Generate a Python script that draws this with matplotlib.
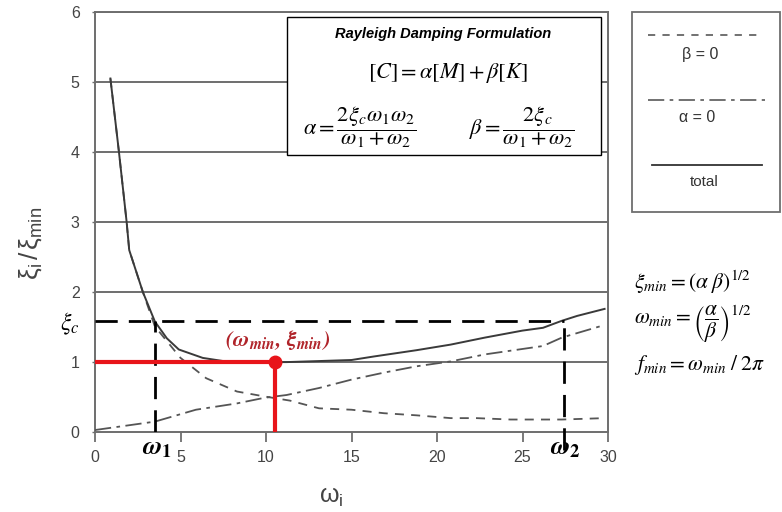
import matplotlib
matplotlib.use("Agg")
import matplotlib.pyplot as plt
from matplotlib.patches import Rectangle
from matplotlib.lines import Line2D

plt.rcParams['font.family'] = ['Liberation Sans', 'DejaVu Sans']
plt.rcParams['mathtext.fontset'] = 'stix'

# ---- data ----
total_x = [0.9, 1.4, 1.85, 2.0, 2.8, 3.5, 4.2, 4.9, 6.3, 7.9, 11.2, 15.0, 16.3, 18.8, 20.8, 22.8, 25.0, 26.2, 27.3, 28.2, 29.8]
total_y = [5.05, 4.0, 3.0, 2.6, 2.0, 1.58, 1.34, 1.18, 1.06, 1.0, 1.0, 1.03, 1.08, 1.17, 1.25, 1.35, 1.45, 1.49, 1.59, 1.66, 1.76]

beta0_x = [0.9, 1.4, 1.85, 2.0, 2.8, 3.5, 5.0, 6.5, 8.3, 9.9, 11.4, 13.1, 15.0, 16.9, 18.8, 20.8, 22.3, 24.3, 27.3, 29.8]
beta0_y = [5.05, 4.0, 3.0, 2.6, 2.0, 1.51, 1.06, 0.77, 0.58, 0.51, 0.45, 0.34, 0.32, 0.27, 0.24, 0.20, 0.20, 0.18, 0.18, 0.20]

alpha0_x = [0.0, 3.5, 5.9, 8.3, 9.9, 11.2, 13.1, 15.0, 16.9, 18.8, 20.8, 22.8, 24.5, 26.2, 27.3, 29.8]
alpha0_y = [0.03, 0.15, 0.32, 0.41, 0.49, 0.53, 0.63, 0.75, 0.85, 0.94, 1.01, 1.11, 1.17, 1.23, 1.35, 1.53]

omega1 = 3.5
omega2 = 27.4
xi_c = 1.58
omega_min = 10.5
xi_min = 1.0

x_ticks = [0, 5, 10, 15, 20, 25, 30]
y_ticks = [0, 1, 2, 3, 4, 5, 6]

# ---- figure ----
fig = plt.figure(figsize=(7.82, 5.12), dpi=100)
ax = fig.add_axes([0.1215, 0.156, 0.656, 0.8206])
ax.set_xlim(0, 30)
ax.set_ylim(0, 6)

gray = '#6e6e6e'
for y in y_ticks[1:]:
    ax.axhline(y, color=gray, lw=1.4, zorder=1)

for s in ax.spines.values():
    s.set_color(gray)
    s.set_linewidth(1.4)

ax.set_xticks(x_ticks)
ax.set_yticks(y_ticks)
ax.tick_params(axis='x', direction='out', length=7, width=1.3, color=gray,
               labelsize=11.5, labelcolor='#444444', pad=6)
ax.tick_params(axis='y', direction='out', length=2, width=1.0, color=gray,
               labelsize=11.5, labelcolor='#444444', pad=9)

# curves
ax.plot(beta0_x, beta0_y, color='#555555', lw=1.3, dashes=(5, 4), zorder=3)
ax.plot(alpha0_x, alpha0_y, color='#555555', lw=1.3, dashes=(9, 3, 2, 3), zorder=3)
ax.plot(total_x, total_y, color='#3a3a3a', lw=1.4, zorder=4)

# reference dashed lines
dash_kw = dict(color='black', lw=2.0, dashes=(8, 4), zorder=5)
ax.plot([0, omega2], [xi_c, xi_c], **dash_kw)
ax.plot([omega1, omega1], [0, xi_c], **dash_kw)
ax.plot([omega2, omega2], [-0.25, xi_c], clip_on=False, **dash_kw)

# red minimum lines
red = '#e8141a'
ax.plot([0, omega_min], [xi_min, xi_min], color=red, lw=3, zorder=6, solid_capstyle='butt')
ax.plot([omega_min, omega_min], [0, xi_min], color=red, lw=3, zorder=6, solid_capstyle='butt')
ax.plot([omega_min], [xi_min], 'o', color=red, ms=9, zorder=7)

ax.text(omega_min + 0.2, xi_min + 0.15,
        r'$\mathbfit{(\omega_{min},\, \xi_{min})}$',
        color='#b0242a', fontsize=16, ha='center', va='bottom', zorder=8)

ax.text(-0.9, xi_c - 0.03, r'$\xi_c$', fontsize=17, ha='right', va='center')
ax.text(omega1 + 0.1, -0.05, r'$\mathbfit{\omega}_\mathbf{1}$', fontsize=19, ha='center', va='top')
ax.text(omega2 + 0.1, -0.05, r'$\mathbfit{\omega}_\mathbf{2}$', fontsize=19, ha='center', va='top')

ax.set_xlabel(r'$\mathregular{\omega_i}$', fontsize=18, color='#444444')
ax.xaxis.set_label_coords(0.46, -0.125)
ax.set_ylabel(r'$\mathregular{\xi_i\,/\,\xi_{min}}$', fontsize=19, color='#444444')
ax.yaxis.set_label_coords(-0.1, 0.45)

# formula box
fig.patches.append(Rectangle((0.367, 0.697), 0.4015, 0.270, transform=fig.transFigure,
                             facecolor='white', edgecolor='black', lw=1.0, zorder=10))
fig.text(0.567, 0.934, 'Rayleigh Damping Formulation', fontsize=10.5, fontweight='bold',
         fontstyle='italic', ha='center', va='center', zorder=11)
fig.text(0.573, 0.857, r'$[C] = \alpha[M] + \beta[K]$', fontsize=16, ha='center',
         va='center', zorder=11)
fig.text(0.388, 0.752, r'$\alpha = \dfrac{2\xi_c\omega_1\omega_2}{\omega_1 + \omega_2}$',
         fontsize=16, ha='left', va='center', zorder=11)
fig.text(0.600, 0.752, r'$\beta = \dfrac{2\xi_c}{\omega_1 + \omega_2}$',
         fontsize=16, ha='left', va='center', zorder=11)

# legend box
fig.patches.append(Rectangle((0.808, 0.586), 0.189, 0.391, transform=fig.transFigure,
                             facecolor='white', edgecolor=gray, lw=1.3, zorder=10))
lg = '#666666'
fig.lines.append(Line2D([0.829, 0.968], [0.932, 0.932], transform=fig.transFigure,
                        color=lg, lw=1.3, dashes=(4, 4), zorder=11))
fig.text(0.895, 0.893, 'β = 0', fontsize=11.5, ha='center', va='center', zorder=11,
         color='#333333')
fig.lines.append(Line2D([0.829, 0.978], [0.805, 0.805], transform=fig.transFigure,
                        color=lg, lw=1.3, dashes=(9, 3, 2, 3), zorder=11))
fig.text(0.892, 0.770, 'α = 0', fontsize=11.5, ha='center', va='center', zorder=11,
         color='#333333')
fig.lines.append(Line2D([0.834, 0.974], [0.677, 0.677], transform=fig.transFigure,
                        color='#333333', lw=1.3, zorder=11))
fig.text(0.901, 0.645, 'total', fontsize=11, ha='center', va='center', zorder=11,
         color='#333333')

# right formulas
fig.text(0.811, 0.449, r'$\xi_{min} = (\alpha\;\beta)^{1/2}$', fontsize=15.5, ha='left', va='center')
fig.text(0.811, 0.367, r'$\omega_{min} = \left(\dfrac{\alpha}{\beta}\right)^{1/2}$',
         fontsize=15.5, ha='left', va='center')
fig.text(0.811, 0.287, r'$f_{min} = \omega_{min}\;/\;2\pi$', fontsize=15.5, ha='left', va='center')

fig.savefig('out.png', dpi=100, facecolor='white')
